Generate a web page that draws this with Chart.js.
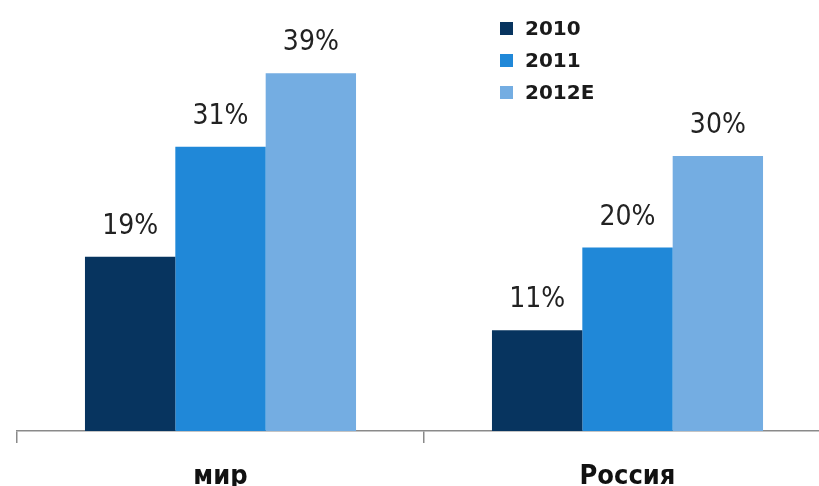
<!DOCTYPE html>
<html>
<head>
<meta charset="utf-8">
<script src="https://cdn.jsdelivr.net/npm/chart.js@4.4.0/dist/chart.umd.min.js"></script>
<style>
  html, body { margin: 0; padding: 0; background: #fff; overflow: hidden; }
  #wrap { width: 819px; height: 486px; overflow: hidden; }
</style>
</head>
<body>
<div id="wrap"><canvas id="chart" width="840" height="500"></canvas></div>
<script>
const regions = ['мир', 'Россия'];
const years = ['2010', '2011', '2012E'];
const share2010 = [19, 11];
const share2011 = [31, 20];
const share2012E = [39, 30];
const yearColors = ['#07345f', '#2088d8', '#74ade2'];

// percent labels above each bar
const valueLabels = {
    id: 'valueLabels',
    afterDatasetsDraw(chart) {
        const ctx = chart.ctx;
        ctx.save();
        ctx.font = '28px "DejaVu Sans Condensed", "DejaVu Sans", sans-serif';
        ctx.fillStyle = '#222';
        ctx.textAlign = 'center';
        ctx.textBaseline = 'alphabetic';
        chart.data.datasets.forEach((ds, i) => {
            chart.getDatasetMeta(i).data.forEach((bar, j) => {
                ctx.fillText(ds.data[j] + '%', bar.x, bar.y - 23);
            });
        });
        ctx.restore();
    }
};

// vertical legend in the upper middle
const sideLegend = {
    id: 'sideLegend',
    afterDraw(chart) {
        const ctx = chart.ctx;
        const left = 500, top = 22, row = 32, box = 13;
        ctx.save();
        ctx.font = 'bold 20px "DejaVu Sans", sans-serif';
        ctx.textBaseline = 'middle';
        ctx.textAlign = 'left';
        chart.data.datasets.forEach((ds, i) => {
            const y = top + i * row;
            ctx.fillStyle = ds.backgroundColor;
            ctx.fillRect(left, y, box, box);
            ctx.fillStyle = '#1a1a1a';
            ctx.fillText(ds.label, left + 25, y + box / 2 + 1);
        });
        ctx.restore();
    }
};

const ctx = document.getElementById('chart').getContext('2d');
new Chart(ctx, {
    type: 'bar',
    data: {
        labels: regions,
        datasets: [
            { label: years[0], data: share2010, backgroundColor: yearColors[0] },
            { label: years[1], data: share2011, backgroundColor: yearColors[1] },
            { label: years[2], data: share2012E, backgroundColor: yearColors[2] }
        ]
    },
    options: {
        responsive: false,
        animation: false,
        layout: { padding: { left: 17, right: 9, top: 0, bottom: 0 } },
        datasets: {
            bar: { categoryPercentage: 0.666, barPercentage: 1.0, borderWidth: 0 }
        },
        plugins: {
            legend: { display: false },
            tooltip: { enabled: false }
        },
        scales: {
            y: { display: false, min: 0, max: 47 },
            x: {
                afterFit: (scale) => { scale.height = 69; },
                border: { display: true, color: '#8a8a8a', width: 1.5 },
                grid: {
                    display: true,
                    offset: true,
                    drawOnChartArea: false,
                    drawTicks: true,
                    tickLength: 12,
                    color: '#8a8a8a',
                    lineWidth: 1.5
                },
                ticks: {
                    padding: 18,
                    color: '#111',
                    font: { family: '"DejaVu Sans Condensed", "DejaVu Sans", sans-serif', size: 27, weight: 'bold' }
                }
            }
        }
    },
    plugins: [valueLabels, sideLegend]
});
</script>
</body>
</html>
